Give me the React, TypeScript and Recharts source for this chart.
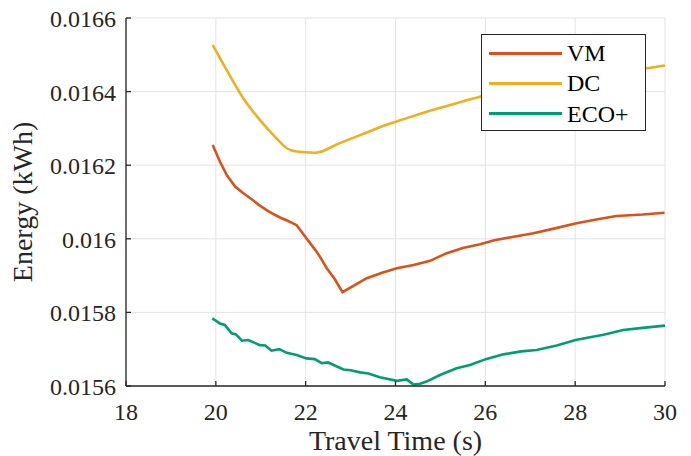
import React from 'react';
import { LineChart, Line, XAxis, YAxis, CartesianGrid, Legend } from 'recharts';

const xTicks = [18, 20, 22, 24, 26, 28, 30];
const yTicks = [0.0156, 0.0158, 0.016, 0.0162, 0.0164, 0.0166];
const yTickLabels = ['0.0156', '0.0158', '0.016', '0.0162', '0.0164', '0.0166'];

const vmTime = [19.93, 20.09, 20.25, 20.43, 20.6, 20.76, 20.95, 21.13, 21.3, 21.43, 21.6, 21.8, 22.02, 22.2, 22.32, 22.47, 22.65, 22.82, 23.1, 23.36, 23.7, 24.03, 24.4, 24.77, 25.14, 25.5, 25.88, 26.2, 26.6, 27.07, 27.5, 28.03, 28.5, 28.92, 29.5, 29.99];
const vmEnergy = [0.016255, 0.01621, 0.016172, 0.016142, 0.016125, 0.016111, 0.016093, 0.016078, 0.016066, 0.016058, 0.016049, 0.016037, 0.016001, 0.015972, 0.015951, 0.01592, 0.01589, 0.015855, 0.015875, 0.015893, 0.015908, 0.01592, 0.015929, 0.01594, 0.015961, 0.015975, 0.015985, 0.015996, 0.016005, 0.016015, 0.016027, 0.016042, 0.016053, 0.016062, 0.016066, 0.016071];

const dcTime = [19.93, 20.24, 20.61, 20.98, 21.35, 21.58, 21.8, 22.21, 22.76, 23.36, 23.65, 24.03, 24.5, 25.0, 25.4, 25.88, 26.5, 27.0, 27.5, 28.0, 28.5, 29.0, 29.57, 30.0];
const dcEnergy = [0.016527, 0.016459, 0.016382, 0.016323, 0.016273, 0.016246, 0.016237, 0.016234, 0.01626, 0.016289, 0.016303, 0.016319, 0.016338, 0.016356, 0.016370, 0.016386, 0.016403, 0.016416, 0.016427, 0.016437, 0.016446, 0.016453, 0.016463, 0.016471];

const ecoTime = [19.92, 20.09, 20.2, 20.35, 20.45, 20.58, 20.72, 20.98, 21.1, 21.24, 21.41, 21.58, 21.8, 22.02, 22.2, 22.36, 22.5, 22.84, 23.0, 23.21, 23.4, 23.65, 24.03, 24.25, 24.4, 24.55, 24.69, 24.99, 25.36, 25.66, 26.01, 26.4, 26.8, 27.14, 27.59, 28.01, 28.3, 28.63, 29.07, 29.5, 30.0];
const ecoEnergy = [0.015784, 0.01577, 0.015766, 0.015743, 0.01574, 0.015723, 0.015725, 0.015711, 0.01571, 0.015696, 0.0157, 0.01569, 0.015684, 0.015675, 0.015673, 0.015662, 0.015664, 0.015645, 0.015643, 0.015637, 0.015634, 0.015624, 0.015614, 0.015618, 0.015604, 0.015606, 0.015612, 0.01563, 0.015648, 0.015657, 0.015673, 0.015686, 0.015694, 0.015698, 0.01571, 0.015725, 0.015732, 0.015739, 0.015752, 0.015758, 0.015764];

const seriesNames = ['VM', 'DC', 'ECO+'];
const seriesColors = ['#D95319', '#EDB120', '#009E73'];

const toPoints = (xs: number[], ys: number[]) => xs.map((x, i) => ({ t: x, e: ys[i] }));
const vmData = toPoints(vmTime, vmEnergy);
const dcData = toPoints(dcTime, dcEnergy);
const ecoData = toPoints(ecoTime, ecoEnergy);

const FONT = "Liberation Serif, DejaVu Serif, Times New Roman, serif";
const AXIS_COLOR = '#262626';

const XTick = (props: any) => {
  const { x, y, payload } = props;
  return (
    <g>
      <line x1={x} x2={x} y1={y} y2={y - 5} stroke={AXIS_COLOR} strokeWidth={1.3} />
      <text x={x} y={y + 34} textAnchor="middle" style={{ fontFamily: FONT }} fontSize={24} fill={AXIS_COLOR}>
        {payload.value}
      </text>
    </g>
  );
};

const YTick = (props: any) => {
  const { x, y, payload, index } = props;
  const i = yTicks.findIndex((v) => Math.abs(v - payload.value) < 1e-9);
  return (
    <g>
      <line x1={x} x2={x + 5} y1={y} y2={y} stroke={AXIS_COLOR} strokeWidth={1.3} />
      <text x={x - 10} y={y + 9} textAnchor="end" style={{ fontFamily: FONT }} fontSize={24} fill={AXIS_COLOR}>
        {i >= 0 ? yTickLabels[i] : yTickLabels[index]}
      </text>
    </g>
  );
};

const LegendBox = () => (
  <div
    style={{
      width: 163,
      height: 95,
      border: '1px solid #262626',
      background: '#fff',
      position: 'relative',
      fontFamily: FONT,
      fontSize: 24,
      color: '#000',
    }}
  >
    {seriesNames.map((n, i) => (
      <div key={n} style={{ position: 'absolute', left: 0, top: 18 + i * 30.3 - 14, height: 28, width: 163 }}>
        <div style={{ position: 'absolute', left: 7, top: 12.5, width: 73, height: 3, background: seriesColors[i] }} />
        <div style={{ position: 'absolute', left: 85, top: 0, lineHeight: '28px' }}>{n}</div>
      </div>
    ))}
  </div>
);

export default function App() {
  return (
    <div style={{ position: 'absolute', left: 0, top: 0, width: 691, height: 456, background: '#fff', fontFamily: FONT }}>
      <LineChart width={691} height={456} margin={{ top: 18, right: 26, bottom: 0, left: 0 }} style={{ fontFamily: FONT }}>
        <CartesianGrid stroke="#e3e3e3" strokeWidth={1} />
        <XAxis
          type="number"
          dataKey="t"
          domain={[18, 30]}
          ticks={xTicks}
          allowDataOverflow
          height={70}
          tickSize={0}
          tickMargin={0}
          tick={<XTick />}
          stroke={AXIS_COLOR}
          strokeWidth={1.3}
          label={{ value: 'Travel Time (s)', position: 'insideBottom', offset: 6, fontSize: 28, fill: AXIS_COLOR, style: { fontFamily: FONT } }}
        />
        <YAxis
          type="number"
          dataKey="e"
          domain={[0.0156, 0.0166]}
          ticks={yTicks}
          allowDataOverflow
          width={126}
          tickSize={0}
          tickMargin={0}
          tick={<YTick />}
          stroke={AXIS_COLOR}
          strokeWidth={1.3}
          label={{ value: 'Energy (kWh)', angle: -90, position: 'insideLeft', offset: 22, fontSize: 28, fill: AXIS_COLOR, style: { textAnchor: 'middle', fontFamily: FONT } }}
        />
        <Line data={vmData} dataKey="e" name="VM" stroke={seriesColors[0]} strokeWidth={2.6} dot={false} isAnimationActive={false} type="linear" />
        <Line data={dcData} dataKey="e" name="DC" stroke={seriesColors[1]} strokeWidth={2.6} dot={false} isAnimationActive={false} type="monotone" />
        <Line data={ecoData} dataKey="e" name="ECO+" stroke={seriesColors[2]} strokeWidth={2.6} dot={false} isAnimationActive={false} type="linear" />
        <Legend
          layout="vertical"
          align="center"
          verticalAlign="middle"
          content={<LegendBox />}
          wrapperStyle={{ left: 481, top: 34, width: 165, height: 97 }}
        />
      </LineChart>
    </div>
  );
}
